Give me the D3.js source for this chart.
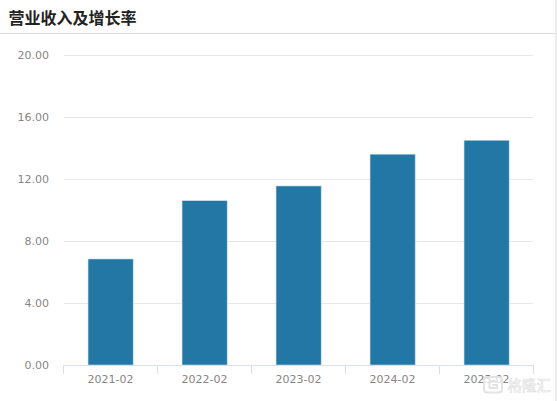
<!DOCTYPE html>
<html><head><meta charset="utf-8">
<script src="https://cdn.jsdelivr.net/npm/d3@7"></script>
<style>html,body{margin:0;padding:0;background:#fff;overflow:hidden}svg{display:block}</style>
</head><body><svg id="c" width="557" height="401"></svg>
<script>
const categories = ["2021-02","2022-02","2023-02","2024-02","2025-02"];
const revenue = [6.84,10.6,11.55,13.6,14.5];
const yTicks = [0,4,8,12,16,20];
const titleText = "营业收入及增长率";
const watermarkText = "格隆汇";

const svg = d3.select("#c");
const cjk = "'Noto Sans CJK SC','Noto Sans',sans-serif";
const latin = "'DejaVu Sans',sans-serif";
const labelColor = "#8a8583";

const x = d3.scaleBand().domain(categories).range([63.6,533.6]).paddingInner(0.52).paddingOuter(0.26);
const step = x.step();
const y = d3.scaleLinear().domain([0,20]).range([365,55]);

svg.append("rect").attr("x",555).attr("y",0).attr("width",2).attr("height",401).attr("fill","#ececec");
svg.append("line").attr("x1",0).attr("x2",555).attr("y1",33.5).attr("y2",33.5).attr("stroke","#d9d9d9");
svg.append("text").attr("x",8.5).attr("y",23.5).attr("font-family",cjk).attr("font-weight",700)
  .attr("font-size",16).attr("fill","#222").text(titleText);

svg.append("g").selectAll("line").data(yTicks.filter(d=>d>0)).join("line")
  .attr("x1",64).attr("x2",533).attr("y1",d=>Math.round(y(d))+.5).attr("y2",d=>Math.round(y(d))+.5)
  .attr("stroke","#e8e8e8").attr("stroke-width",1.2);

svg.append("g").selectAll("text").data(yTicks).join("text")
  .attr("x",49).attr("y",d=>y(d)+4).attr("text-anchor","end")
  .attr("font-family",latin).attr("font-size",11).attr("fill",labelColor)
  .text(d=>d3.format(".2f")(d));

svg.append("g").selectAll("rect").data(categories).join("rect")
  .attr("x",d=>x(d)).attr("width",x.bandwidth())
  .attr("y",(d,i)=>y(revenue[i])).attr("height",(d,i)=>y(0)-y(revenue[i]))
  .attr("fill","#2277a4").attr("stroke","#c4dcea").attr("stroke-width",0.6);

const axis = d3.axisBottom(x).tickSize(0).tickPadding(10);
const ga = svg.append("g").attr("transform","translate(0,365)").call(axis);
ga.select(".domain").remove();
ga.selectAll("text").attr("font-family",latin).attr("font-size",11).attr("fill",labelColor);
svg.append("line").attr("x1",63.5).attr("x2",533.5).attr("y1",365.5).attr("y2",365.5).attr("stroke","#d8e0ee");
svg.append("g").selectAll("line").data(d3.range(categories.length+1)).join("line")
  .attr("x1",i=>63.5+i*step).attr("x2",i=>63.5+i*step).attr("y1",365).attr("y2",374).attr("stroke","#d8e0ee");

const wm = svg.append("g");
wm.append("rect").attr("x",484).attr("y",377).attr("width",18).attr("height",15.5).attr("rx",3)
  .attr("fill","#fff").attr("fill-opacity",0.7).attr("stroke","#e2e2e2").attr("stroke-width",1.8);
wm.append("path").attr("d","M497 381.5H489.5V388H497V385H492.5").attr("fill","none").attr("stroke","#e2e2e2").attr("stroke-width",1.8);
wm.append("text").attr("x",507.5).attr("y",391).attr("font-family",cjk).attr("font-size",14.5)
  .attr("fill","#fff").attr("stroke","#e0e0e0").attr("stroke-width",0.6).text(watermarkText);
</script></body></html>
